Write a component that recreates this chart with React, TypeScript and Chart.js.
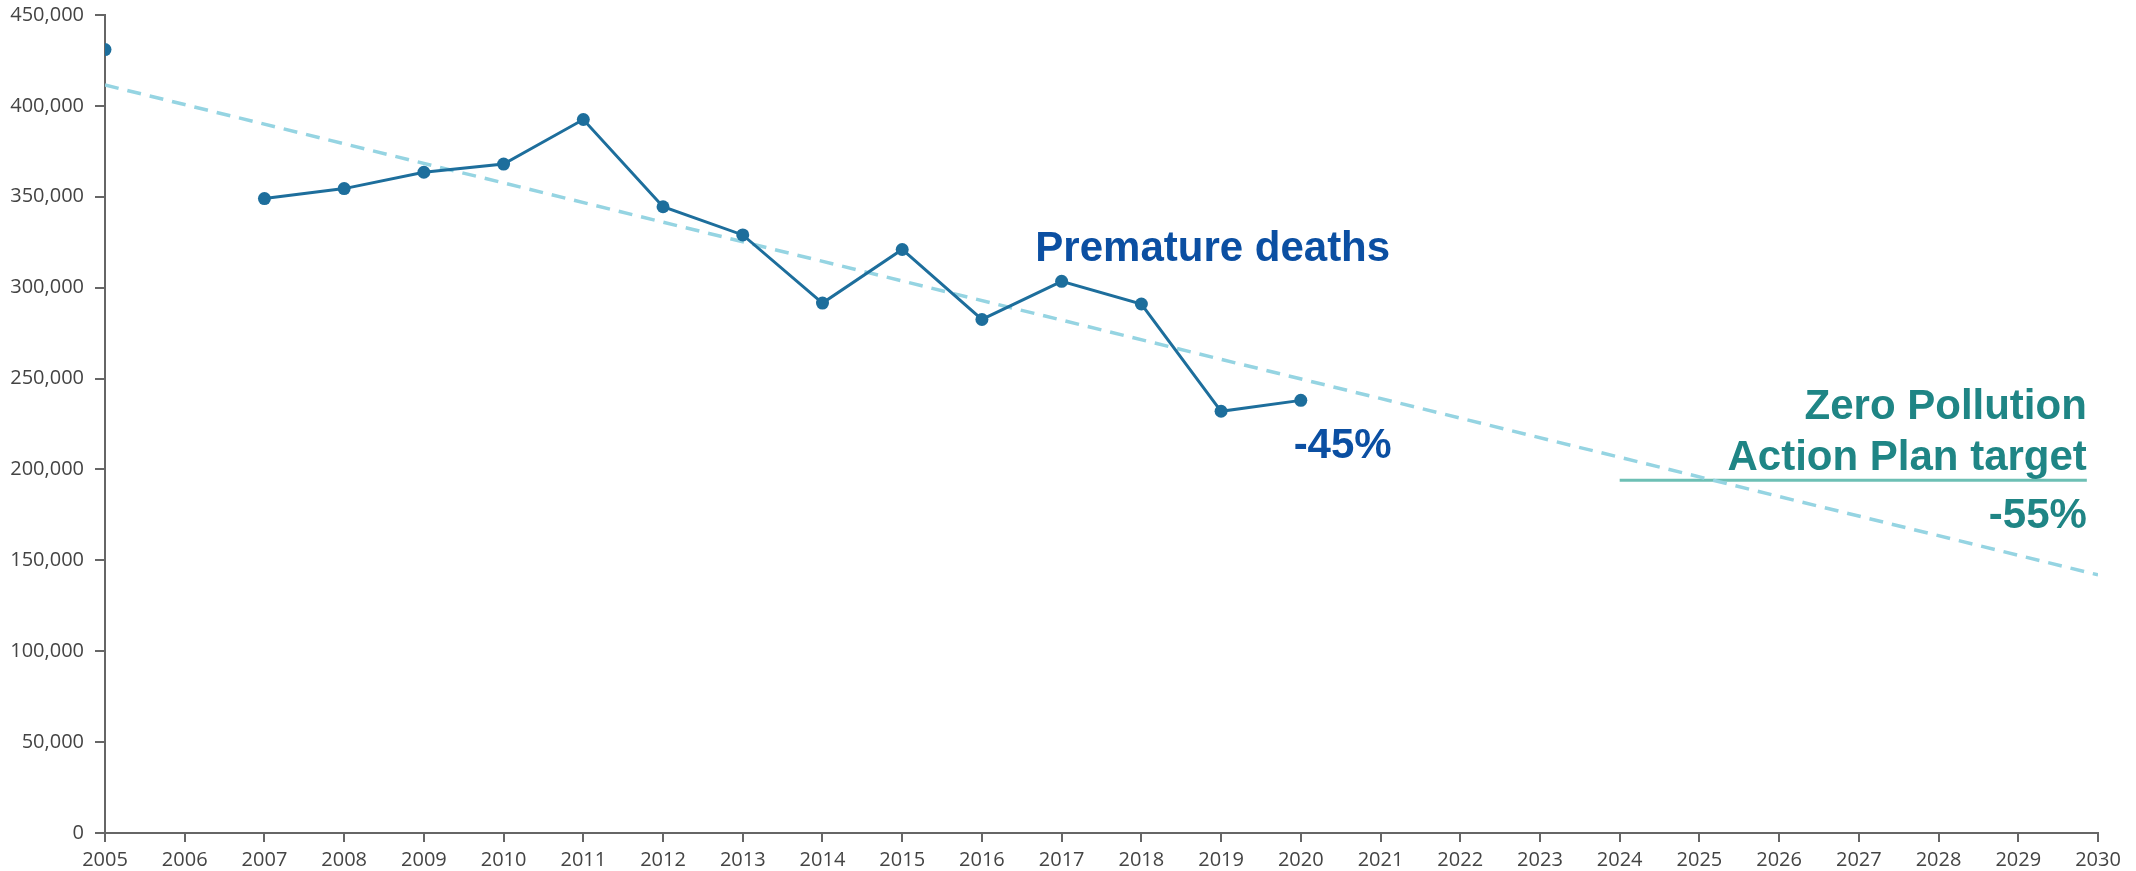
import React, { useEffect, useRef } from "react";
import { Chart, registerables } from "chart.js";

Chart.register(...registerables);

// ---- Data ----
const years = [2005, 2006, 2007, 2008, 2009, 2010, 2011, 2012, 2013, 2014, 2015, 2016, 2017, 2018, 2019, 2020];
const deaths: (number | null)[] = [431000, null, 349000, 354500, 363500, 368000, 392500, 344500, 329000, 291500, 321000, 282500, 303500, 291000, 232000, 238000];

const trendYears = [2005, 2030];
const trendValues = [411500, 142000];

const targetYears = [2024, 2029.86];
const targetValues = [194000, 194000];

const xMin = 2005;
const xMax = 2030;
const yMin = 0;
const yMax = 450000;
const yStep = 50000;

// annotation texts (anchored in data coordinates)
const annotations = [
  { text: "Premature deaths", x: 2016.67, y: 314700, align: "left", color: "#0B4FA2" },
  { text: "-45%", x: 2019.91, y: 206300, align: "left", color: "#0B4FA2" },
  { text: "Zero Pollution", x: 2029.86, y: 227800, align: "right", color: "#1F8585" },
  { text: "Action Plan target", x: 2029.86, y: 199700, align: "right", color: "#1F8585" },
  { text: "-55%", x: 2029.86, y: 167800, align: "right", color: "#1F8585" },
];

const annotationPlugin = {
  id: "textAnnotations",
  afterDatasetsDraw(chart: any) {
    const { ctx, scales } = chart;
    ctx.save();
    ctx.font = "bold 42px 'Liberation Sans', Arial, sans-serif";
    ctx.textBaseline = "alphabetic";
    for (const a of annotations) {
      ctx.fillStyle = a.color;
      ctx.textAlign = a.align as CanvasTextAlign;
      ctx.fillText(a.text, scales.x.getPixelForValue(a.x), scales.y.getPixelForValue(a.y));
    }
    ctx.restore();
  },
};

export default function App() {
  const ref = useRef<HTMLCanvasElement | null>(null);

  useEffect(() => {
    if (!ref.current) return;
    const chart = new Chart(ref.current, {
      type: "line",
      data: {
        datasets: [
          {
            label: "Premature deaths",
            data: years.map((x, i) => ({ x, y: deaths[i] })) as any,
            borderColor: "#1D6E9C",
            backgroundColor: "#1D6E9C",
            borderWidth: 3,
            pointRadius: 6.5,
            pointHoverRadius: 6.5,
            pointBorderWidth: 0,
            spanGaps: false,
            tension: 0,
          },
          {
            label: "Trend",
            data: trendYears.map((x, i) => ({ x, y: trendValues[i] })),
            borderColor: "#95D4E2",
            borderWidth: 3.5,
            borderDash: [14, 9],
            pointRadius: 0,
            tension: 0,
          },
          {
            label: "Target",
            data: targetYears.map((x, i) => ({ x, y: targetValues[i] })),
            borderColor: "#6DBFB4",
            borderWidth: 3,
            pointRadius: 0,
            tension: 0,
          },
        ],
      },
      options: {
        animation: false,
        responsive: false,
        maintainAspectRatio: false,
        layout: { padding: { left: 0, right: 38, top: 15, bottom: 0 } },
        plugins: {
          legend: { display: false },
          tooltip: { enabled: false },
        },
        scales: {
          x: {
            type: "linear",
            min: xMin,
            max: xMax,
            ticks: {
              stepSize: 1,
              autoSkip: false,
              maxRotation: 0,
              padding: 6,
              color: "#444",
              font: { family: "'Open Sans', sans-serif", size: 20 },
              callback: (v: any) => String(v),
            },
            grid: { drawOnChartArea: false, drawTicks: true, tickLength: 9, color: "#666", lineWidth: 2 },
            border: { display: true, color: "#666", width: 2 },
            afterFit: (s: any) => { s.height = 38; },
          },
          y: {
            type: "linear",
            min: yMin,
            max: yMax,
            ticks: {
              stepSize: yStep,
              padding: 11,
              color: "#444",
              font: { family: "'Open Sans', sans-serif", size: 20 },
              callback: (v: any) => Number(v).toLocaleString("en-US"),
            },
            grid: { drawOnChartArea: false, drawTicks: true, tickLength: 10, color: "#666", lineWidth: 2 },
            border: { display: true, color: "#666", width: 2 },
            afterFit: (s: any) => { s.width = 105; s.paddingTop = 0; s.paddingBottom = 0; },
          },
        },
      },
      plugins: [annotationPlugin],
    });
    return () => chart.destroy();
  }, []);

  return (
    <div style={{ position: "absolute", left: 0, top: 0, width: 2136, height: 871, background: "#fff" }}>
      <canvas ref={ref} width={2136} height={871} style={{ width: 2136, height: 871, display: "block" }} />
    </div>
  );
}
